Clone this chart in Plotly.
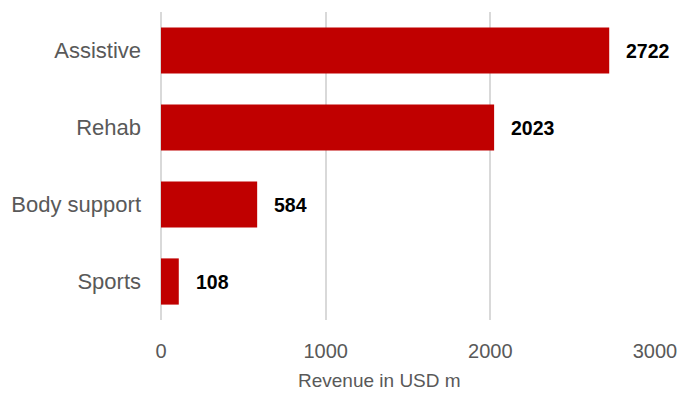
import plotly.graph_objects as go

categories = ["Assistive", "Rehab", "Body support", "Sports"]
revenue = [2722, 2023, 584, 108]
x_ticks = [0, 1000, 2000, 3000]
x_title = "Revenue in USD m"

bar_color = "#C00000"
text_gray = "#595959"
grid_color = "#D9D9D9"
font_family = "Liberation Sans, Arial, sans-serif"

fig = go.Figure(
    go.Bar(
        y=categories,
        x=revenue,
        orientation="h",
        marker=dict(color=bar_color, line=dict(width=0)),
        hoverinfo="skip",
    )
)

for cat, val in zip(categories, revenue):
    fig.add_annotation(
        x=val, y=cat, xref="x", yref="y",
        text=f"<b>{val}</b>", showarrow=False,
        xanchor="left", xshift=15,
        font=dict(family=font_family, size=19.5, color="#000000"),
    )

# axis title (sits a little left of the axis centre in the reference)
fig.add_annotation(
    x=0.443, y=-0.195, xref="paper", yref="paper",
    text=x_title, showarrow=False,
    xanchor="center", yanchor="middle",
    font=dict(family=font_family, size=19, color=text_gray),
)

fig.update_layout(
    width=683, height=394,
    margin=dict(l=161, r=28, t=12, b=74, pad=0),
    paper_bgcolor="white", plot_bgcolor="white",
    bargap=0.4,
    showlegend=False,
    font=dict(family=font_family, color=text_gray),
)

fig.update_xaxes(
    range=[0, 3000],
    automargin=False,
    tickvals=x_ticks,
    ticktext=[str(v) for v in x_ticks],
    showgrid=True, gridcolor=grid_color, gridwidth=1.5,
    zeroline=True, zerolinecolor=grid_color, zerolinewidth=1.5,
    showline=False, ticks="",
    tickfont=dict(family=font_family, size=20, color=text_gray),
    ticklabelstandoff=17,
)

fig.update_yaxes(
    categoryorder="array",
    categoryarray=categories[::-1],
    automargin=False,
    showgrid=False, zeroline=False, showline=False, ticks="",
    tickfont=dict(family=font_family, size=22, color=text_gray),
    ticklabelstandoff=19,
)

fig.write_html("out.html")
